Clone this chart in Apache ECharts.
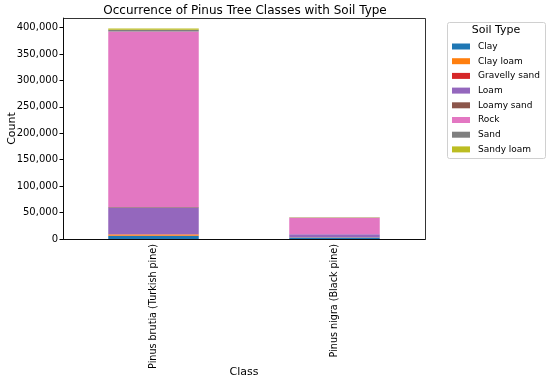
<!DOCTYPE html>
<html><head><meta charset="utf-8">
<script src="https://cdn.jsdelivr.net/npm/echarts@6/dist/echarts.min.js"></script>
<style>html,body{margin:0;padding:0;background:#fff}#c{width:550px;height:382px}</style>
</head><body><div id="c"></div>
<script>
const categories = ['Pinus brutia (Turkish pine)', 'Pinus nigra (Black pine)'];
const soilTypes = ['Clay', 'Clay loam', 'Gravelly sand', 'Loam', 'Loamy sand', 'Rock', 'Sand', 'Sandy loam'];
const clay = [6000, 3000];
const clayLoam = [2500, 200];
const gravellySand = [300, 50];
const loam = [51000, 5500];
const loamySand = [800, 100];
const rock = [332000, 31500];
const sand = [3000, 300];
const sandyLoam = [2500, 400];
const yTicks = [0, 50000, 100000, 150000, 200000, 250000, 300000, 350000, 400000];
const colors = ['#1f77b4', '#ff7f0e', '#d62728', '#9467bd', '#8c564b', '#e377c2', '#7f7f7f', '#bcbd22'];
const seriesData = [clay, clayLoam, gravellySand, loam, loamySand, rock, sand, sandyLoam];

const font = 'DejaVu Sans';
const chart = echarts.init(document.getElementById('c'));
chart.setOption({
  animation: false,
  color: colors,
  title: {text: 'Occurrence of Pinus Tree Classes with Soil Type', left: 240, textAlign: 'center', top: 0,
    textStyle: {fontFamily: font, fontSize: 12, fontWeight: 'normal', color: '#000'}},
  grid: {left: 63, right: 125, top: 18, bottom: 143, outerBoundsMode: 'none', containLabel: false},
  xAxis: {type: 'category', data: categories, name: 'Class', nameLocation: 'middle', nameGap: 128, nameMoveOverlap: false,
    nameTextStyle: {fontFamily: font, fontSize: 11, color: '#000'},
    axisLine: {lineStyle: {color: '#000', width: 0.8}},
    axisTick: {alignWithLabel: true, length: 3.5, lineStyle: {color: '#000'}},
    axisLabel: {rotate: 90, fontFamily: font, fontSize: 9.6, color: '#000', margin: 5}},
  yAxis: {type: 'value', min: 0, max: 418000, interval: 50000, name: 'Count', nameLocation: 'middle', nameGap: 45, nameMoveOverlap: false,
    nameTextStyle: {fontFamily: font, fontSize: 11, color: '#000'},
    axisLine: {show: true, lineStyle: {color: '#000', width: 0.8}},
    axisTick: {show: true, length: 3.5, lineStyle: {color: '#000'}},
    splitLine: {show: false},
    axisLabel: {fontFamily: font, fontSize: 10, color: '#000', margin: 5, showMaxLabel: false,
      formatter: v => yTicks.includes(v) ? v.toLocaleString('en-US') : ''}},
  legend: {orient: 'vertical', left: 452, top: 41, itemWidth: 18, itemHeight: 6, itemGap: 3.7,
    icon: 'rect', data: soilTypes, padding: 0,
    textStyle: {fontFamily: font, fontSize: 9, color: '#000', lineHeight: 11, padding: [0, 0, 0, 3]}},
  graphic: [
    {type: 'rect', shape: {x: 447.5, y: 22.5, width: 98, height: 136, r: 2}, style: {fill: '#fff', stroke: '#d0d0d0', lineWidth: 1}, z: -1},
    {type: 'text', x: 496, y: 25, style: {text: 'Soil Type', fontFamily: font, fontSize: 11, fill: '#000', textAlign: 'center'}},
    {type: 'rect', shape: {x: 63.5, y: 18.5, width: 362, height: 221}, style: {fill: 'none', stroke: '#000', lineWidth: 0.8}, z: 10}
  ],
  series: soilTypes.map((name, i) => ({
    name, type: 'bar', stack: 'total', data: seriesData[i], barWidth: '50%'
  }))
});
</script></body></html>
